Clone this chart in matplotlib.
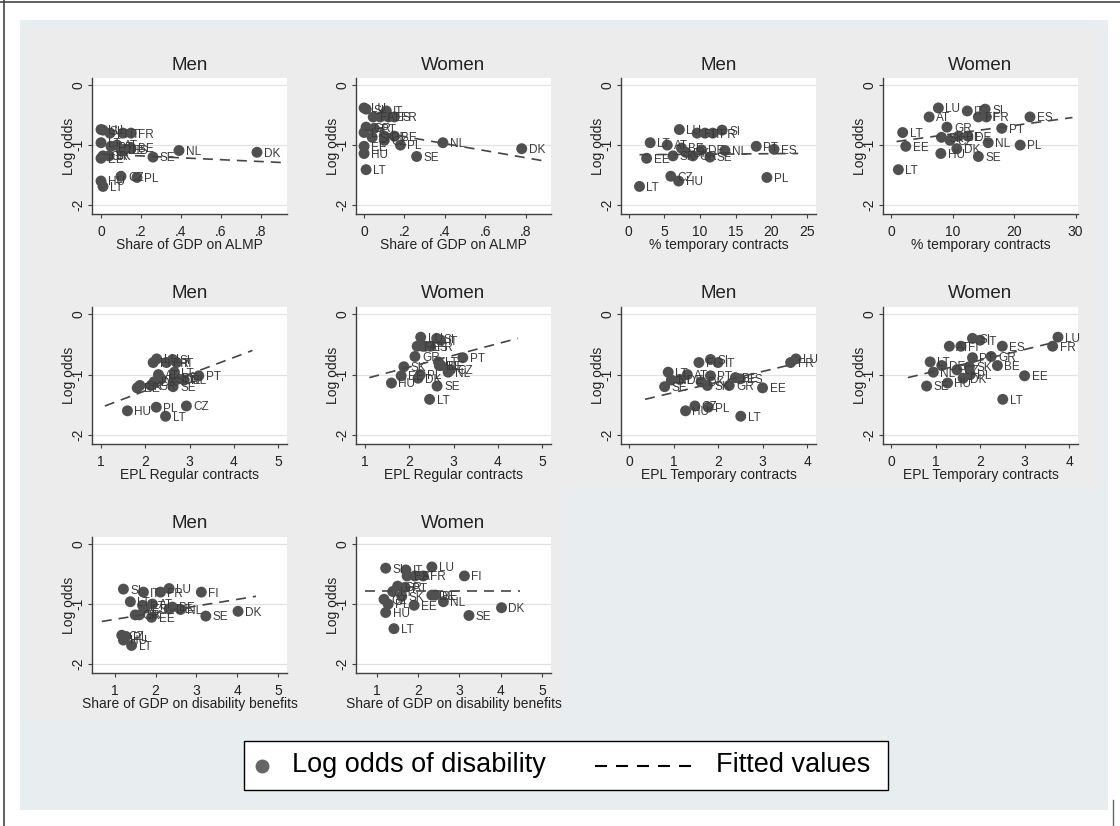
import matplotlib
matplotlib.use("Agg")
import matplotlib.pyplot as plt
from matplotlib.patches import Rectangle
from matplotlib.lines import Line2D

plt.rcParams['font.family'] = ['Liberation Sans', 'DejaVu Sans']

# ---------------- data ----------------
countries = ["AT", "BE", "CZ", "DE", "DK", "EE", "ES", "FI", "FR", "GR", "HU",
             "IT", "LT", "LU", "NL", "PL", "PT", "SE", "SI", "SK", "LT"]

men_logodds = [-1.00, -1.05, -1.52, -1.08, -1.12, -1.22, -1.07, -0.80, -0.80, -1.18, -1.60,
               -0.80, -0.96, -0.74, -1.09, -1.54, -1.02, -1.20, -0.75, -1.18, -1.69]
women_logodds = [-0.53, -0.85, -0.92, -0.85, -1.06, -1.02, -0.53, -0.53, -0.53, -0.70, -1.14,
                 -0.43, -0.79, -0.38, -0.96, -1.00, -0.72, -1.19, -0.40, -0.87, -1.41]

almp_share = [0.08, 0.15, 0.10, 0.10, 0.78, 0.00, 0.12, 0.045, 0.15, 0.01, 0.00,
              0.11, 0.00, 0.00, 0.39, 0.18, 0.05, 0.26, 0.01, 0.04, 0.01]
temp_men = [5.4, 7.4, 5.9, 10.2, 8.0, 2.5, 20.4, 9.6, 11.8, 9.0, 7.0,
            10.7, 3.0, 7.1, 13.5, 19.4, 17.9, 11.4, 13.1, 6.2, 1.5]
temp_women = [6.2, 11.0, 9.6, 12.5, 10.7, 2.4, 22.6, 14.2, 15.5, 9.1, 8.1,
              12.4, 1.9, 7.7, 15.8, 21.0, 18.0, 14.2, 15.3, 8.2, 1.2]
epl_regular = [2.30, 2.68, 2.93, 2.72, 2.20, 1.82, 2.36, 2.18, 2.48, 2.13, 1.60,
               2.71, 2.66, 2.26, 2.88, 2.25, 3.21, 2.63, 2.62, 1.88, 2.46]
epl_temporary = [1.31, 2.39, 1.48, 1.14, 1.62, 3.00, 2.50, 1.57, 3.63, 2.25, 1.27,
                 2.00, 0.88, 3.75, 0.95, 1.78, 1.83, 0.80, 1.83, 1.76, 2.51]
disability_share = [1.92, 2.41, 1.17, 2.33, 4.02, 1.90, 1.73, 3.12, 2.12, 1.50, 1.21,
                    1.70, 1.38, 2.33, 2.61, 1.27, 1.68, 3.23, 1.21, 1.60, 1.41]

panel_titles = ["Men", "Women", "Men", "Women", "Men", "Women", "Men", "Women", "Men", "Women"]
panel_xlabels = ["Share of GDP on ALMP", "Share of GDP on ALMP",
                 "% temporary contracts", "% temporary contracts",
                 "EPL Regular contracts", "EPL Regular contracts",
                 "EPL Temporary contracts", "EPL Temporary contracts",
                 "Share of GDP on disability benefits", "Share of GDP on disability benefits"]
panel_x = [almp_share, almp_share, temp_men, temp_women, epl_regular, epl_regular,
           epl_temporary, epl_temporary, disability_share, disability_share]
panel_y = [men_logodds, women_logodds] * 5

# fitted values (end points)
fit_x0 = [0.0, 0.0, 1.5, 0.9, 1.09, 1.10, 0.36, 0.38, 0.68, 0.71]
fit_x1 = [0.9, 0.9, 23.8, 29.5, 4.42, 4.45, 3.73, 3.70, 4.46, 4.47]
fit_y0 = [-1.15, -0.74, -1.16, -0.94, -1.52, -1.05, -1.41, -1.05, -1.29, -0.78]
fit_y1 = [-1.29, -1.27, -1.14, -0.54, -0.60, -0.40, -0.82, -0.46, -0.87, -0.78]

xticks_almp = [0, 0.2, 0.4, 0.6, 0.8]
xticklabels_almp = ["0", ".2", ".4", ".6", ".8"]
panel_xticks = [xticks_almp, xticks_almp, [0, 5, 10, 15, 20, 25], [0, 10, 20, 30],
                [1, 2, 3, 4, 5], [1, 2, 3, 4, 5], [0, 1, 2, 3, 4], [0, 1, 2, 3, 4],
                [1, 2, 3, 4, 5], [1, 2, 3, 4, 5]]
panel_xticklabels = [xticklabels_almp, xticklabels_almp,
                     ["0", "5", "10", "15", "20", "25"], ["0", "10", "20", "30"],
                     ["1", "2", "3", "4", "5"], ["1", "2", "3", "4", "5"],
                     ["0", "1", "2", "3", "4"], ["0", "1", "2", "3", "4"],
                     ["1", "2", "3", "4", "5"], ["1", "2", "3", "4", "5"]]
panel_xlim = [(-0.045, 0.93), (-0.04, 0.925), (-1.1, 26.3), (-1.3, 30.4),
              (0.8, 5.2), (0.8, 5.2), (-0.18, 4.2), (-0.18, 4.2),
              (0.44, 5.22), (0.49, 5.22)]
yticks = [0, -1, -2]
yticklabels = ["0", "-1", "-2"]

# ---------------- figure ----------------
W, H = 1120, 826
fig = plt.figure(figsize=(W / 100, H / 100), dpi=100)
fig.patch.set_facecolor('white')


def fx(px):
    return px / W


def fy(py):
    return 1 - py / H


def frect(x0, y0, x1, y1, **kw):
    fig.patches.append(Rectangle((fx(x0), fy(y1)), (x1 - x0) / W, (y1 - y0) / H,
                                 transform=fig.transFigure, **kw))


# outer frame lines
fig.lines.append(Line2D([fx(0), fx(1120)], [fy(1.5), fy(1.5)], transform=fig.transFigure,
                        color='#444444', lw=1.2))
fig.lines.append(Line2D([fx(3.5), fx(3.5)], [fy(0), fy(826)], transform=fig.transFigure,
                        color='#444444', lw=1.2))
fig.lines.append(Line2D([fx(1113), fx(1113)], [fy(800), fy(826)], transform=fig.transFigure,
                        color='#666666', lw=1.0))

# background regions
frect(20, 20, 1108, 810, facecolor='#e8eef0', edgecolor='none', zorder=-10)
row_h = 229.5
for r in range(3):
    x_end = 1098 if r < 2 else 562
    frect(24, 30 + r * row_h, x_end, 30 + (r + 1) * row_h,
          facecolor='#ececec', edgecolor='none', zorder=-9)

col_left = [92, 356, 621, 883]
row_top = [78, 307, 537]
row_bot = [214, 444, 673]
pw = 195

for i in range(10):
    r, c = divmod(i, 4)
    ph = row_bot[r] - row_top[r]
    ax = fig.add_axes([fx(col_left[c]), fy(row_bot[r]), pw / W, ph / H])
    ax.set_facecolor('white')
    ax.set_xlim(*panel_xlim[i])
    ax.set_ylim(-2.15, 0.12)

    ax.set_axisbelow(True)
    ax.yaxis.grid(True, color='#e2e2e2', lw=0.9)
    ax.xaxis.grid(False)

    ax.scatter(panel_x[i], panel_y[i], s=62, color='#505050', edgecolors='none', zorder=3)
    for lab, xv, yv in zip(countries, panel_x[i], panel_y[i]):
        ax.annotate(lab, (xv, yv), xytext=(5, -1), textcoords='offset points',
                    fontsize=8.5, ha='left', va='center', color='#3a3a3a', zorder=4)
    ax.plot([fit_x0[i], fit_x1[i]], [fit_y0[i], fit_y1[i]], color='#454545', lw=1.2,
            ls=(0, (6, 4.2)), zorder=5)

    for s in ['top', 'right']:
        ax.spines[s].set_visible(False)
    for s in ['left', 'bottom']:
        ax.spines[s].set_color('#404040')
        ax.spines[s].set_linewidth(1.0)

    ax.set_xticks(panel_xticks[i])
    ax.set_xticklabels(panel_xticklabels[i])
    ax.set_yticks(yticks)
    ax.set_yticklabels(yticklabels, rotation=90, va='center')
    ax.tick_params(axis='both', direction='out', length=3, width=0.8, color='#404040',
                   labelsize=10, labelcolor='#222222')
    ax.tick_params(axis='x', pad=5)
    ax.tick_params(axis='y', pad=1.5)

    ax.text(0.5, 1 + 13 / ph, panel_titles[i], transform=ax.transAxes, ha='center',
            va='center', fontsize=13.5, color='#222222')
    fig.text(fx(col_left[c] + pw / 2), fy(row_bot[r] + 31), panel_xlabels[i],
             ha='center', va='center', fontsize=10, color='#222222')
    fig.text(fx(col_left[c] - 23), fy((row_top[r] + row_bot[r]) / 2), "Log odds",
             rotation=90, ha='center', va='center', fontsize=10, color='#222222')

# ---------------- legend ----------------
frect(244, 741, 888, 790, facecolor='white', edgecolor='black', lw=1.0, zorder=5)
fig.lines.append(Line2D([fx(262)], [fy(765.5)], transform=fig.transFigure, marker='o',
                        markersize=9, color='#666666', ls='none', zorder=6))
fig.text(fx(292), fy(765.5), "Log odds of disability", ha='left', va='center',
         fontsize=19.5, color='black', zorder=6)
fig.lines.append(Line2D([fx(595), fx(693)], [fy(765.5), fy(765.5)], transform=fig.transFigure,
                        color='black', lw=1.5, ls=(0, (5.76, 4.32)), zorder=6))
fig.text(fx(716), fy(765.5), "Fitted values", ha='left', va='center',
         fontsize=19.5, color='black', zorder=6)

fig.savefig("out.png", dpi=100)
